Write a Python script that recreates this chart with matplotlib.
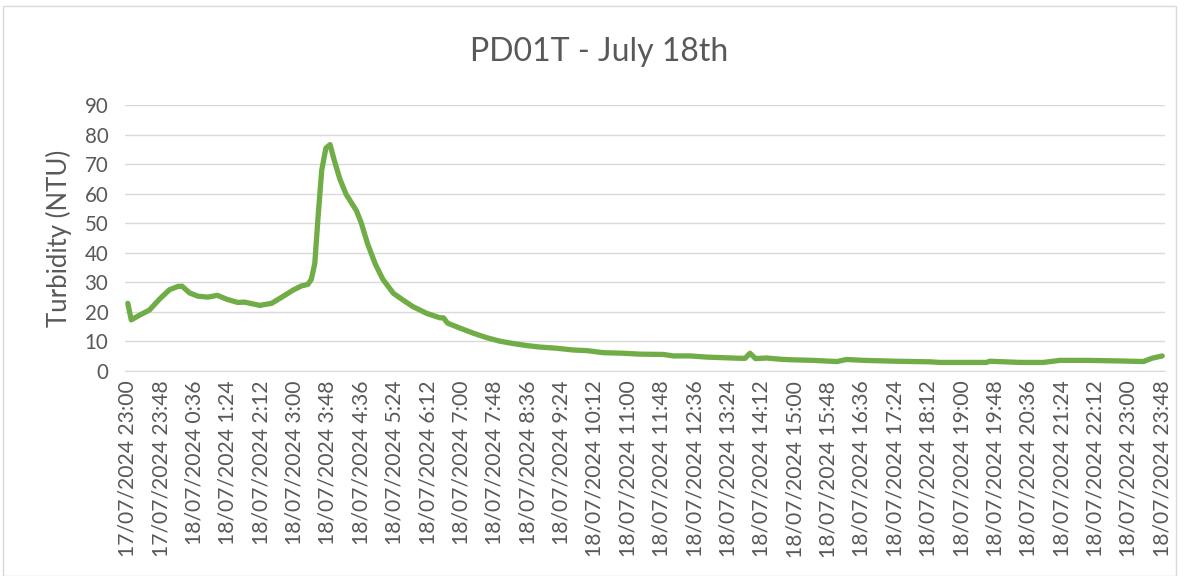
import matplotlib
matplotlib.use("Agg")
import matplotlib.pyplot as plt
from matplotlib.patches import Rectangle

# minutes since 17/07/2024 23:00
times = [0, 5, 17, 31, 46, 60, 72, 78, 89, 101, 115, 129, 142, 158, 168, 190, 207,
         223, 238, 250, 259, 264, 269, 274, 279, 285, 291, 297, 305, 314, 329, 336,
         345, 356, 367, 382, 396, 410, 430, 449, 454, 460, 478, 497, 516, 535, 554,
         574, 593, 617, 641, 660, 684, 713, 737, 770, 785, 809, 833, 857, 881, 888,
         895, 903, 919, 938, 953, 986, 1020, 1034, 1058, 1106, 1154, 1168, 1211,
         1235, 1240, 1283, 1317, 1341, 1379, 1427, 1461, 1473, 1488]
turbidity = [22.9, 17.3, 18.9, 20.6, 24.4, 27.5, 28.6, 28.7, 26.4, 25.3, 25.0, 25.6,
             24.3, 23.2, 23.3, 22.2, 22.9, 25.2, 27.4, 28.8, 29.3, 31.0, 36.4, 53.0,
             68.0, 75.4, 76.6, 71.3, 65.0, 59.8, 54.2, 50.0, 43.0, 36.2, 31.0, 26.3,
             24.0, 21.8, 19.5, 18.0, 18.0, 16.2, 14.5, 12.8, 11.3, 10.1, 9.3, 8.6,
             8.1, 7.7, 7.1, 6.9, 6.2, 6.0, 5.7, 5.6, 5.1, 5.1, 4.7, 4.5, 4.3, 4.3,
             6.0, 4.2, 4.4, 4.0, 3.8, 3.6, 3.2, 3.9, 3.6, 3.3, 3.1, 2.9, 2.9, 2.9,
             3.3, 2.9, 2.9, 3.6, 3.6, 3.4, 3.2, 4.3, 5.1]

tick_labels = ["17/07/2024 23:00", "17/07/2024 23:48", "18/07/2024 0:36",
               "18/07/2024 1:24", "18/07/2024 2:12", "18/07/2024 3:00",
               "18/07/2024 3:48", "18/07/2024 4:36", "18/07/2024 5:24",
               "18/07/2024 6:12", "18/07/2024 7:00", "18/07/2024 7:48",
               "18/07/2024 8:36", "18/07/2024 9:24", "18/07/2024 10:12",
               "18/07/2024 11:00", "18/07/2024 11:48", "18/07/2024 12:36",
               "18/07/2024 13:24", "18/07/2024 14:12", "18/07/2024 15:00",
               "18/07/2024 15:48", "18/07/2024 16:36", "18/07/2024 17:24",
               "18/07/2024 18:12", "18/07/2024 19:00", "18/07/2024 19:48",
               "18/07/2024 20:36", "18/07/2024 21:24", "18/07/2024 22:12",
               "18/07/2024 23:00", "18/07/2024 23:48"]
tick_step = 48
y_ticks = [0, 10, 20, 30, 40, 50, 60, 70, 80, 90]

plt.rcParams['font.family'] = ['Lato', 'DejaVu Sans']
txt = '#595959'
W, H = 1187, 576
fig = plt.figure(figsize=(W / 100, H / 100), dpi=100)
fig.patches.append(Rectangle((3 / W, 0), (1176 - 3) / W, (H - 6) / H, transform=fig.transFigure,
                             fill=False, edgecolor='#D9D9D9', linewidth=1))
ax = fig.add_axes([125 / W, 1 - 371 / H, (1165 - 125) / W, (371 - 105) / H])

ax.plot(times, turbidity, color='#70AD47', linewidth=3.8,
        solid_joinstyle='round', solid_capstyle='round', zorder=3)

xt = [i * tick_step for i in range(len(tick_labels))]
ax.set_xlim(-4, xt[-1] + 4)
ax.set_ylim(0, 90)
ax.set_xticks(xt)
ax.set_xticklabels(tick_labels, rotation=90, fontsize=15.2, color=txt)
ax.set_yticks(y_ticks)
ax.set_yticklabels([str(v) for v in y_ticks], fontsize=14.8, color=txt)
ax.tick_params(length=0, pad=12)
ax.tick_params(axis='x', pad=7)
ax.grid(axis='y', color='#D9D9D9', linewidth=1)
ax.set_axisbelow(True)
for s in ['top', 'right', 'left']:
    ax.spines[s].set_visible(False)
ax.spines['bottom'].set_color('#D9D9D9')
ax.set_ylabel('Turbidity (NTU)', fontsize=18.5, color=txt, labelpad=9)
fig.text(599 / W, 1 - 52 / H, 'PD01T - July 18th', ha='center', va='center',
         fontsize=23, color=txt)

fig.savefig('out.png', dpi=100)
